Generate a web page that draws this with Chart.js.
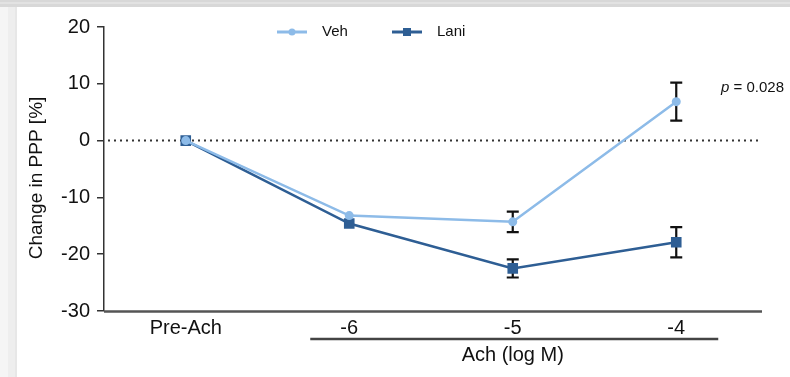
<!DOCTYPE html>
<html>
<head>
<meta charset="utf-8">
<script src="https://cdn.jsdelivr.net/npm/chart.js@4.4.0/dist/chart.umd.min.js"></script>
<style>
html,body{margin:0;padding:0;background:#fff;}
#wrap{position:relative;width:790px;height:377px;}
</style>
</head>
<body>
<div id="wrap"><canvas id="c" width="790" height="377"></canvas></div>
<script>
const categories = ["Pre-Ach", "-6", "-5", "-4"];
const vehValues = [0, -13.2, -14.3, 6.85];
const vehSem = [null, null, 1.8, 3.35];
const laniValues = [0, -14.6, -22.5, -17.9];
const laniSem = [null, null, 1.6, 2.65];
const yTicks = [20, 10, 0, -10, -20, -30];
const seriesNames = ["Veh", "Lani"];
const yTitle = "Change in PPP [%]";
const xTitle = "Ach (log M)";
const pAnnotation = {prefix: "p", rest: " = 0.028", valueY: 9.3};

const VEH_COLOR = "#8dbbe8";
const LANI_COLOR = "#2e5e94";
const FONT = "'Liberation Sans', Arial, sans-serif";
const TEXT = "#111111";

const framePlugin = {
  id: "frame",
  beforeDraw(chart) {
    const ctx = chart.ctx;
    ctx.save();
    ctx.fillStyle = "#ffffff";
    ctx.fillRect(0, 0, chart.width, chart.height);
    ctx.fillStyle = "#f5f5f5";
    ctx.fillRect(0, 0, 17, chart.height);
    ctx.fillStyle = "#eeeeee";
    ctx.fillRect(8, 0, 7, chart.height);
    ctx.fillStyle = "#e7e7e7";
    ctx.fillRect(15, 0, 2, chart.height);
    ctx.fillStyle = "#d8d8d8";
    ctx.fillRect(0, 0, chart.width, 7);
    ctx.fillStyle = "#e2e2e2";
    ctx.fillRect(0, 2, chart.width, 2);
    ctx.restore();
  }
};

const extrasPlugin = {
  id: "extras",
  beforeDatasetsDraw(chart) {
    const ctx = chart.ctx;
    const xs = chart.scales.x, ys = chart.scales.y;
    const area = chart.chartArea;
    ctx.save();
    // x axis line (extends a little past the plot area)
    ctx.strokeStyle = "#555";
    ctx.lineWidth = 2.5;
    ctx.beginPath();
    ctx.moveTo(area.left, area.bottom + 0.5);
    ctx.lineTo(area.right + 4, area.bottom + 0.5);
    ctx.stroke();
    // zero dotted line
    ctx.strokeStyle = "#333";
    ctx.lineWidth = 2;
    ctx.setLineDash([2, 4]);
    const y0 = ys.getPixelForValue(0);
    ctx.beginPath();
    ctx.moveTo(area.left + 4, y0);
    ctx.lineTo(area.right + 4, y0);
    ctx.stroke();
    ctx.setLineDash([]);
    // error bars
    const sets = [[vehValues, vehSem], [laniValues, laniSem]];
    ctx.strokeStyle = "#111";
    ctx.lineWidth = 2.2;
    sets.forEach(([vals, sem]) => {
      vals.forEach((v, i) => {
        if (sem[i] == null) return;
        const x = xs.getPixelForValue(i);
        const yt = ys.getPixelForValue(v + sem[i]);
        const yb = ys.getPixelForValue(v - sem[i]);
        ctx.beginPath();
        ctx.moveTo(x, yt); ctx.lineTo(x, yb);
        ctx.moveTo(x - 6, yt); ctx.lineTo(x + 6, yt);
        ctx.moveTo(x - 6, yb); ctx.lineTo(x + 6, yb);
        ctx.stroke();
      });
    });
    ctx.restore();
  },
  afterDraw(chart) {
    const ctx = chart.ctx;
    const xs = chart.scales.x, ys = chart.scales.y;
    ctx.save();
    ctx.fillStyle = TEXT;
    // y title
    ctx.save();
    ctx.translate(37, 178);
    ctx.rotate(-Math.PI / 2);
    ctx.font = "19px " + FONT;
    ctx.textAlign = "center";
    ctx.textBaseline = "middle";
    ctx.fillText(yTitle, 0, 0);
    ctx.restore();
    // x group line and title
    const xl = xs.getPixelForValue(1) - 39;
    const xr = xs.getPixelForValue(3) + 42;
    ctx.strokeStyle = "#444";
    ctx.lineWidth = 2.5;
    ctx.beginPath();
    ctx.moveTo(xl, 339);
    ctx.lineTo(xr, 339);
    ctx.stroke();
    ctx.font = "20px " + FONT;
    ctx.textAlign = "center";
    ctx.textBaseline = "middle";
    ctx.fillText(xTitle, xs.getPixelForValue(2), 355);
    // legend
    const items = [
      {name: seriesNames[0], color: VEH_COLOR, x: 277, shape: "circle"},
      {name: seriesNames[1], color: LANI_COLOR, x: 392, shape: "rect"}
    ];
    const ly = 32;
    items.forEach(it => {
      ctx.strokeStyle = it.color;
      ctx.lineWidth = 3;
      ctx.beginPath();
      ctx.moveTo(it.x, ly); ctx.lineTo(it.x + 30, ly);
      ctx.stroke();
      ctx.fillStyle = it.color;
      if (it.shape === "circle") {
        ctx.beginPath(); ctx.arc(it.x + 15, ly, 3.5, 0, Math.PI * 2); ctx.fill();
      } else {
        ctx.fillRect(it.x + 11, ly - 4, 8, 8);
      }
      ctx.fillStyle = TEXT;
      ctx.font = "15px " + FONT;
      ctx.textAlign = "left";
      ctx.textBaseline = "middle";
      ctx.fillText(it.name, it.x + 45, ly);
    });
    // p annotation
    const py = ys.getPixelForValue(pAnnotation.valueY);
    ctx.fillStyle = TEXT;
    ctx.font = "italic 15px " + FONT;
    ctx.textAlign = "left";
    ctx.textBaseline = "middle";
    ctx.fillText(pAnnotation.prefix, 721, py);
    const pw = ctx.measureText(pAnnotation.prefix).width;
    ctx.font = "15px " + FONT;
    ctx.fillText(pAnnotation.rest, 721 + pw, py);
    ctx.restore();
  }
};

new Chart(document.getElementById("c"), {
  type: "line",
  data: {
    labels: categories,
    datasets: [
      {
        label: seriesNames[0],
        data: vehValues,
        borderColor: VEH_COLOR,
        backgroundColor: VEH_COLOR,
        borderWidth: 2.5,
        pointStyle: "circle",
        pointRadius: 4.5,
        pointBorderWidth: 0,
        tension: 0
      },
      {
        label: seriesNames[1],
        data: laniValues,
        borderColor: LANI_COLOR,
        backgroundColor: LANI_COLOR,
        borderWidth: 2.5,
        pointStyle: "rect",
        pointRadius: 7.5,
        pointBorderWidth: 0,
        tension: 0
      }
    ]
  },
  options: {
    responsive: false,
    animation: false,
    devicePixelRatio: 1,
    layout: {padding: {left: 0, right: 32, top: 27, bottom: 0}},
    plugins: {legend: {display: false}, tooltip: {enabled: false}},
    scales: {
      x: {
        type: "category",
        offset: true,
        grid: {display: false, drawTicks: false},
        border: {display: false},
        ticks: {color: TEXT, font: {family: FONT, size: 20}, padding: 5, maxRotation: 0, autoSkip: false},
        afterFit(s) { s.height = 66; }
      },
      y: {
        min: -30, max: 20,
        grid: {display: true, drawOnChartArea: false, drawTicks: true, tickLength: 7, color: "#333", lineWidth: 1.5},
        border: {display: true, color: "#333", width: 1.5},
        afterBuildTicks(s) { s.ticks = yTicks.map(v => ({value: v})); },
        ticks: {color: TEXT, font: {family: FONT, size: 20}, padding: 7},
        afterFit(s) { s.width = 104; }
      }
    }
  },
  plugins: [framePlugin, extrasPlugin]
});
</script>
</body>
</html>
